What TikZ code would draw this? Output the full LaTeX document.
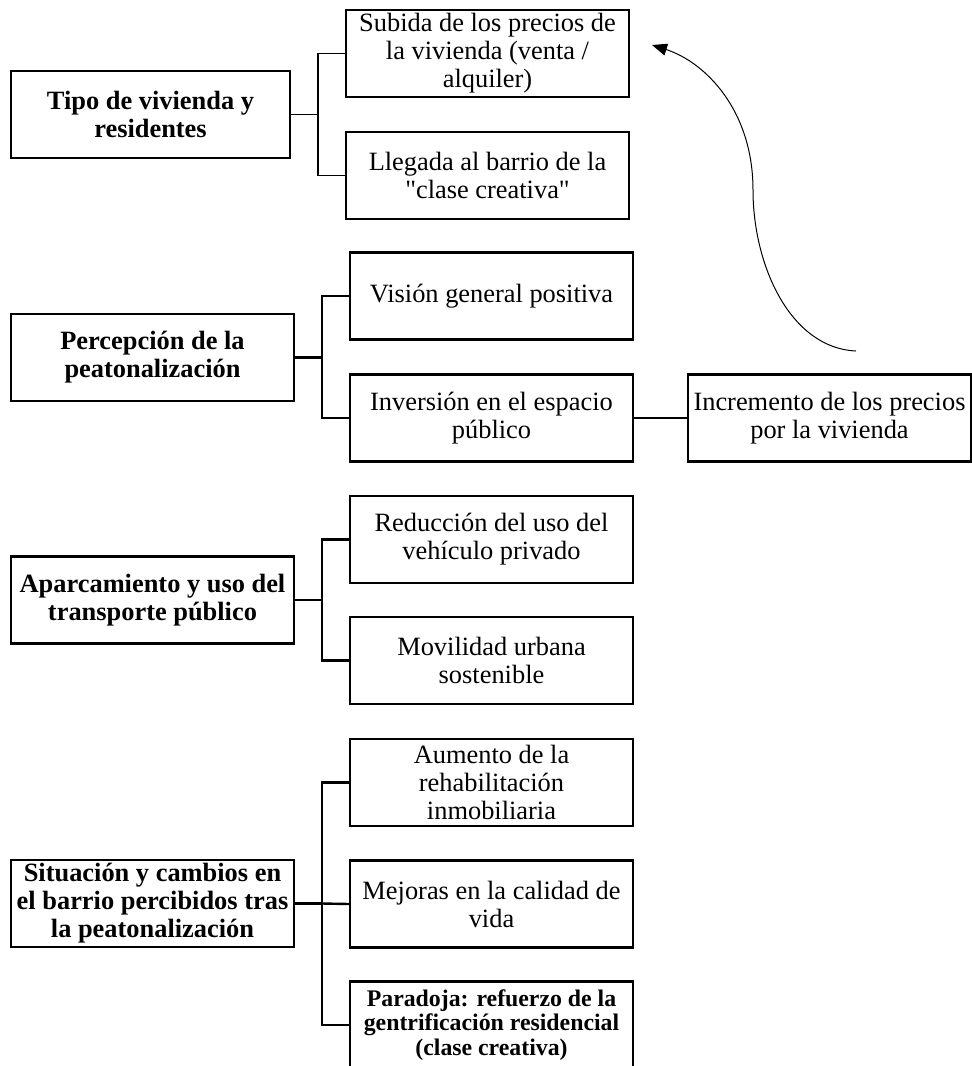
\documentclass[tikz,border=0pt]{standalone}
\usepackage{fontspec}
\setmainfont{Liberation Serif}[Ligatures=TeXOff]
\usetikzlibrary{arrows.meta}
\begin{document}
\begin{tikzpicture}[x=1pt,y=-1pt,
  box/.style={draw=black,line width=2.3pt,minimum height=87pt,inner sep=0pt,align=center,
    font=\fontsize{26.4}{28}\selectfont},
  leftbox/.style={box,font=\fontsize{26.4}{28}\selectfont\bfseries},
  smallbold/.style={box,font=\fontsize{23.8}{24.5}\selectfont\bfseries},
  thinlink/.style={line width=1.2pt},
  link/.style={line width=2.4pt},
  curvearrow/.style={line width=1pt,-{Triangle[length=15pt,width=12pt]}}]
\useasboundingbox (0,0) rectangle (972,1066);
\begin{scope}
\clip (0,0) rectangle (972,1066);
% group 1
\node[leftbox,minimum width=279pt] (tipo) at (150.5,114.5) {Tipo de vivienda y\\residentes};
\node[box,minimum width=283pt] (subida) at (487.5,53.5) {Subida de los precios de\\la vivienda (venta /\\alquiler)};
\node[box,minimum width=283pt] (llegada) at (487.5,175.5) {Llegada al barrio de la\\"clase creativa"};
\coordinate (j1) at (318,114.5);
\draw[thinlink] (tipo.east) -- (j1);
\draw[thinlink] (j1) |- (subida.west);
\draw[thinlink] (j1) |- (llegada.west);
% group 2
\node[leftbox,minimum width=283pt] (percep) at (152.5,357.5) {Percepción de la\\peatonalización};
\node[box,minimum width=283pt] (vision) at (491.5,296) {Visión general positiva};
\node[box,minimum width=283pt] (inversion) at (491.5,418) {Inversión en el espacio\\público};
\node[box,minimum width=283pt] (incremento) at (829.5,418) {Incremento de los precios\\por la vivienda};
\coordinate (j2) at (322,357.5);
\draw[link] (percep.east) -- (j2);
\draw[link] (j2) |- (vision.west);
\draw[link] (j2) |- (inversion.west);
\draw[link] (inversion.east) -- (incremento.west);
% group 3
\node[leftbox,minimum width=283pt] (aparc) at (152.5,600) {Aparcamiento y uso del\\transporte público};
\node[box,minimum width=283pt] (reduccion) at (491.5,539.5) {Reducción del uso del\\vehículo privado};
\node[box,minimum width=283pt] (movilidad) at (491.5,660.5) {Movilidad urbana\\sostenible};
\coordinate (j3) at (322,600);
\draw[link] (aparc.east) -- (j3);
\draw[link] (j3) |- (reduccion.west);
\draw[link] (j3) |- (movilidad.west);
% group 4
\node[leftbox,minimum width=283pt] (situacion) at (152.5,903.5) {Situación y cambios en\\el barrio percibidos tras\\la peatonalización};
\node[box,minimum width=283pt] (aumento) at (491.5,782.5) {Aumento de la\\rehabilitación\\inmobiliaria};
\node[box,minimum width=283pt] (mejoras) at (491.5,904) {Mejoras en la calidad de\\vida};
\node[smallbold,minimum width=283pt] (paradoja) at (491.5,1025) {Paradoja: refuerzo de la\\gentrificación residencial\\(clase creativa)};
\coordinate (j4) at (322,903.5);
\draw[link] (situacion.east) -- (j4);
\draw[link] (j4) |- (aumento.west);
\draw[link] (j4) -- (mejoras.west);
\draw[link] (j4) |- (paradoja.west);
% curved arrow
\coordinate (cstart) at (856,351);
\coordinate (ctip) at (652,45);
\draw[curvearrow] (cstart) .. controls (790,348) and (753,265) .. (753,190)
  .. controls (753,110) and (705,62) .. (ctip);
\end{scope}
\end{tikzpicture}
\end{document}
